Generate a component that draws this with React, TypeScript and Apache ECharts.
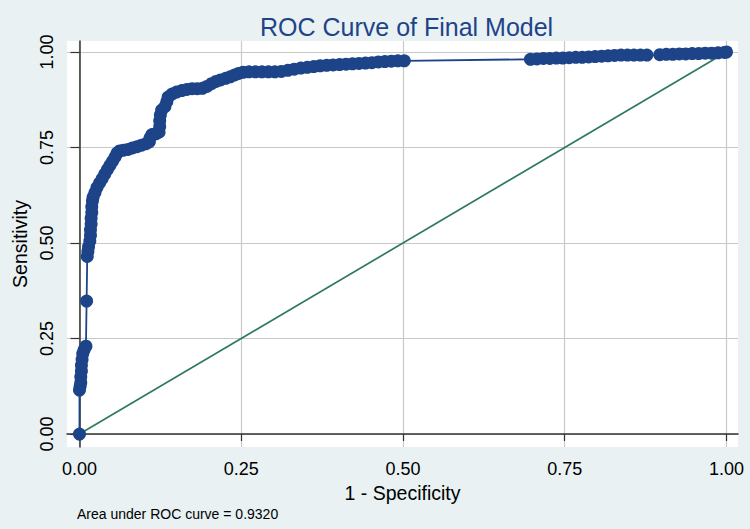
import React, { useEffect, useRef } from "react";
import * as echarts from "echarts";

// 1 - Specificity (false positive rate) and Sensitivity
const fpr = [
  0, 0, 0.001, 0.002, 0.002, 0.003, 0.003, 0.004, 0.005, 0.007, 0.01,
  0.011, 0.012, 0.013, 0.014, 0.016, 0.017, 0.017, 0.018, 0.018, 0.019, 0.019,
  0.02, 0.021, 0.024, 0.027, 0.031, 0.035, 0.039, 0.043, 0.047, 0.051, 0.055,
  0.058, 0.062, 0.068, 0.075, 0.082, 0.089, 0.096, 0.103, 0.108, 0.109, 0.112,
  0.118, 0.123, 0.124, 0.124, 0.125, 0.127, 0.132, 0.135, 0.137, 0.143, 0.15,
  0.158, 0.166, 0.174, 0.182, 0.19, 0.197, 0.204, 0.211, 0.218, 0.226, 0.233,
  0.24, 0.246, 0.253, 0.262, 0.272, 0.282, 0.292, 0.302, 0.312, 0.322, 0.332,
  0.342, 0.352, 0.362, 0.372, 0.382, 0.392, 0.402, 0.412, 0.422, 0.432, 0.442,
  0.452, 0.462, 0.472, 0.482, 0.492, 0.502, 0.697, 0.707, 0.717, 0.727, 0.737,
  0.747, 0.757, 0.767, 0.777, 0.787, 0.797, 0.807, 0.817, 0.827, 0.837, 0.847,
  0.857, 0.867, 0.877, 0.897, 0.907, 0.917, 0.927, 0.937, 0.947, 0.957, 0.967,
  0.977, 0.987, 0.997, 1,
];
const tpr = [
  0, 0.115, 0.125, 0.135, 0.15, 0.165, 0.18, 0.195, 0.21, 0.22, 0.23,
  0.348, 0.465, 0.478, 0.49, 0.505, 0.52, 0.535, 0.55, 0.565, 0.58, 0.595,
  0.61, 0.62, 0.632, 0.645, 0.657, 0.668, 0.68, 0.692, 0.703, 0.714, 0.725,
  0.735, 0.741, 0.743, 0.745, 0.749, 0.752, 0.756, 0.76, 0.765, 0.775, 0.784,
  0.786, 0.79, 0.805, 0.82, 0.835, 0.848, 0.857, 0.87, 0.882, 0.89, 0.895,
  0.899, 0.902, 0.904, 0.904, 0.905, 0.91, 0.917, 0.923, 0.927, 0.931, 0.935,
  0.94, 0.944, 0.947, 0.948, 0.948, 0.948, 0.948, 0.948, 0.949, 0.952, 0.955,
  0.958, 0.96, 0.962, 0.964, 0.965, 0.966, 0.967, 0.968, 0.969, 0.97, 0.971,
  0.972, 0.974, 0.975, 0.976, 0.977, 0.977, 0.981, 0.982, 0.983, 0.983, 0.984,
  0.984, 0.985, 0.986, 0.986, 0.987, 0.988, 0.989, 0.99, 0.991, 0.992, 0.992,
  0.992, 0.992, 0.992, 0.993, 0.994, 0.994, 0.995, 0.995, 0.996, 0.996, 0.997,
  0.997, 0.998, 0.999, 1,
];
const refX = [0, 1];
const refY = [0, 1];
const ticks = [0, 0.25, 0.5, 0.75, 1];

const titleText = "ROC Curve of Final Model";
const xName = "1 - Specificity";
const yName = "Sensitivity";
const noteText = "Area under ROC curve = 0.9320";

const FONT = "'Liberation Sans', Arial, Helvetica, sans-serif";
const NAVY = "#1d4488";
const GREEN = "#2e7a5f";

export default function App() {
  const ref = useRef<HTMLDivElement>(null);

  useEffect(() => {
    if (!ref.current) return;
    const chart = echarts.init(ref.current, undefined, { renderer: "svg" });
    const roc = fpr.map((x, i) => [x, tpr[i]]);
    const diag = refX.map((x, i) => [x, refY[i]]);
    chart.setOption({
      animation: false,
      backgroundColor: "#e9f1f3",
      textStyle: { fontFamily: FONT },
      title: {
        text: titleText,
        left: 255,
        top: 9,
        textStyle: { color: NAVY, fontSize: 25, fontWeight: "normal", fontFamily: FONT },
      },
      grid: {
        left: 67,
        right: 12,
        top: 41,
        bottom: 82,
        show: true,
        backgroundColor: "#ffffff",
        borderWidth: 0,
      },
      xAxis: {
        type: "value",
        min: -0.0193,
        max: 1.0178,
        name: xName,
        nameLocation: "middle",
        nameGap: 36,
        nameTextStyle: { fontSize: 19.5, color: "#000", fontFamily: FONT },
        axisLine: { show: true, lineStyle: { color: "#333", width: 1.5 } },
        axisTick: {
          show: true,
          length: 7,
          customValues: ticks,
          lineStyle: { color: "#333", width: 1.2 },
        },
        axisLabel: {
          customValues: ticks,
          formatter: (v: number) => v.toFixed(2),
          fontSize: 18,
          color: "#000",
          margin: 13,
          fontFamily: FONT,
        },
        splitLine: { show: true, lineStyle: { color: "#c8c8c8", width: 1.2 } },
      },
      yAxis: {
        type: "value",
        min: -0.034,
        max: 1.0288,
        name: yName,
        nameLocation: "middle",
        nameGap: 36,
        nameTextStyle: { fontSize: 19.5, color: "#000", fontFamily: FONT },
        axisLine: { show: true, lineStyle: { color: "#333", width: 1.5 } },
        axisTick: {
          show: true,
          length: 9,
          customValues: ticks,
          lineStyle: { color: "#333", width: 1.2 },
        },
        axisLabel: {
          customValues: ticks,
          formatter: (v: number) => v.toFixed(2),
          fontSize: 18,
          color: "#000",
          rotate: 90,
          margin: 11,
          fontFamily: FONT,
        },
        splitLine: { show: true, lineStyle: { color: "#c8c8c8", width: 1.2 } },
      },
      graphic: [
        {
          type: "text",
          left: 77,
          top: 507,
          style: { text: noteText, fontSize: 14, fill: "#000", fontFamily: FONT },
        },
      ],
      series: [
        {
          type: "line",
          data: diag,
          symbol: "none",
          lineStyle: { color: GREEN, width: 1.7 },
          z: 2,
        },
        {
          type: "line",
          data: roc,
          symbol: "circle",
          symbolSize: 13,
          itemStyle: { color: NAVY },
          lineStyle: { color: NAVY, width: 1.8 },
          z: 3,
        },
      ],
    });
    return () => chart.dispose();
  }, []);

  return <div ref={ref} style={{ width: 750, height: 529, position: "absolute", left: 0, top: 0 }} />;
}
